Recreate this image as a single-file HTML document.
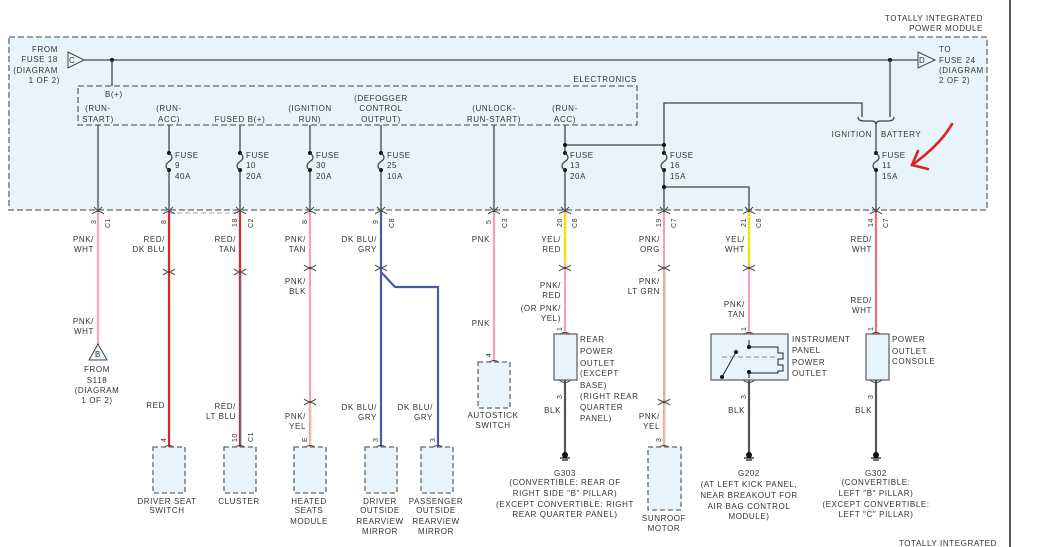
<!DOCTYPE html>
<html><head><meta charset="utf-8"><style>
html,body{margin:0;padding:0;background:#fff;width:1042px;height:547px;overflow:hidden}
svg{display:block}
text{font-family:"Liberation Sans",sans-serif;font-size:8px;fill:#333;letter-spacing:0.6px}
.r{text-anchor:end}.m{text-anchor:middle}
.d{fill:none;stroke:#666;stroke-width:1.3;stroke-dasharray:6,3}
.k{fill:none;stroke:#444;stroke-width:1.3}
.bx{fill:#e8f4fb;stroke:#666;stroke-width:1.3;stroke-dasharray:5,3}
.sb{fill:#e8f4fb;stroke:#666;stroke-width:1.3}
</style></head><body>
<svg width="1042" height="547" viewBox="0 0 1042 547">
<defs>
<g id="fuse"><circle cx="0" cy="0" r="2" fill="#111"/><circle cx="0" cy="17" r="2" fill="#111"/><path d="M0,0 c4,3 4,6 0,8.5 c-4,3 -4,6 0,8.5" fill="none" stroke="#444" stroke-width="1.3"/></g>
<g id="conn"><path d="M-4,-5 L0,-1 L4,-5" fill="none" stroke="#444" stroke-width="1"/><path d="M-6,2 Q0,-3 6,2" fill="none" stroke="#444" stroke-width="1"/></g>
<g id="inl"><path d="M-6,-3 Q0,2 6,-3" fill="none" stroke="#444" stroke-width="1"/><path d="M-6,3 Q0,-2 6,3" fill="none" stroke="#444" stroke-width="1"/></g>
<g id="top"><path d="M-6,3 Q0,-2 6,3" fill="none" stroke="#444" stroke-width="1"/></g>
<g id="bot"><path d="M-6,-3 Q0,2 6,-3" fill="none" stroke="#444" stroke-width="1"/></g>
<g id="gnd"><circle cx="0" cy="0" r="3" fill="#111"/><line x1="-5" y1="3" x2="5" y2="3" stroke="#111" stroke-width="1.2"/><line x1="-3" y1="5" x2="3" y2="5" stroke="#111" stroke-width="1.2"/></g>
</defs>
<rect x="0" y="0" width="1042" height="547" fill="#fff"/>
<line x1="1010" y1="0" x2="1010" y2="547" stroke="#222" stroke-width="1.5"/>
<rect x="9" y="37" width="978" height="173" fill="#e8f4fb"/>
<rect x="9" y="37" width="978" height="173" class="d"/>
<rect x="78" y="86" width="559" height="39" class="d"/>
<text class="r" x="983" y="21">TOTALLY INTEGRATED</text>
<text class="r" x="983" y="31">POWER MODULE</text>
<text class="r" x="58" y="52">FROM</text><text class="r" x="58" y="62">FUSE 18</text><text class="r" x="58" y="73">(DIAGRAM</text><text class="r" x="60" y="83">1 OF 2)</text>
<polygon points="68,52 84,60 68,68" fill="#e8f4fb" stroke="#444" stroke-width="1"/><text x="69" y="63">C</text>
<line x1="84" y1="60" x2="918" y2="60" class="k"/>
<polygon points="918,52 935,60 918,68" fill="#e8f4fb" stroke="#444" stroke-width="1"/><text x="919" y="63">D</text>
<text x="939" y="52">TO</text><text x="939" y="63">FUSE 24</text><text x="939" y="73">(DIAGRAM</text><text x="939" y="83">2 OF 2)</text>
<circle cx="112" cy="60" r="2" fill="#111"/><line x1="112" y1="60" x2="112" y2="86" class="k"/>
<circle cx="890" cy="60" r="2" fill="#111"/>
<text x="105" y="97">B(+)</text>
<text class="r" x="637" y="82">ELECTRONICS</text>
<text class="m" x="98" y="111">(RUN-</text><text class="m" x="98" y="122">START)</text>
<text class="m" x="169" y="111">(RUN-</text><text class="m" x="169" y="122">ACC)</text>
<text class="m" x="240" y="122">FUSED B(+)</text>
<text class="m" x="310" y="111">(IGNITION</text><text class="m" x="310" y="122">RUN)</text>
<text class="m" x="381" y="101">(DEFOGGER</text><text class="m" x="381" y="111">CONTROL</text><text class="m" x="381" y="122">OUTPUT)</text>
<text class="m" x="494" y="111">(UNLOCK-</text><text class="m" x="494" y="122">RUN-START)</text>
<text class="m" x="565" y="111">(RUN-</text><text class="m" x="565" y="122">ACC)</text>
<g class="k">
<line x1="98" y1="125" x2="98" y2="210"/>
<line x1="169" y1="125" x2="169" y2="210"/>
<line x1="240" y1="125" x2="240" y2="210"/>
<line x1="310" y1="125" x2="310" y2="210"/>
<line x1="381" y1="125" x2="381" y2="210"/>
<line x1="494" y1="125" x2="494" y2="210"/>
<line x1="565" y1="125" x2="565" y2="210"/>
<line x1="565" y1="145" x2="664" y2="145"/>
<polyline points="664,210 664,103 862,103 862,117"/>
<line x1="890" y1="60" x2="890" y2="117"/>
<path d="M858,117 Q858,121 864,121 L872,121 Q876,121 876,125 Q876,121 880,121 L888,121 Q894,121 894,117"/>
<line x1="876" y1="125" x2="876" y2="210"/>
<polyline points="664,187 749,187 749,210"/>
</g>
<circle cx="565" cy="145" r="2" fill="#111"/><circle cx="664" cy="145" r="2" fill="#111"/><circle cx="664" cy="187" r="2" fill="#111"/>
<text class="r" x="872" y="137">IGNITION</text><text x="881" y="137">BATTERY</text>
<g fill="#e8f4fb"><rect x="166" y="154" width="6" height="15"/><rect x="237" y="154" width="6" height="15"/><rect x="307" y="154" width="6" height="15"/><rect x="378" y="154" width="6" height="15"/><rect x="562" y="154" width="6" height="15"/><rect x="661" y="154" width="6" height="15"/><rect x="873" y="154" width="6" height="15"/></g>
<use href="#fuse" x="169" y="153"/><use href="#fuse" x="240" y="153"/><use href="#fuse" x="310" y="153"/><use href="#fuse" x="381" y="153"/><use href="#fuse" x="565" y="153"/><use href="#fuse" x="664" y="153"/><use href="#fuse" x="876" y="153"/>
<text x="175" y="158">FUSE</text><text x="175" y="168">9</text><text x="175" y="179">40A</text>
<text x="246" y="158">FUSE</text><text x="246" y="168">10</text><text x="246" y="179">20A</text>
<text x="316" y="158">FUSE</text><text x="316" y="168">30</text><text x="316" y="179">20A</text>
<text x="387" y="158">FUSE</text><text x="387" y="168">25</text><text x="387" y="179">10A</text>
<text x="570" y="158">FUSE</text><text x="570" y="168">13</text><text x="570" y="179">20A</text>
<text x="670" y="158">FUSE</text><text x="670" y="168">16</text><text x="670" y="179">15A</text>
<text x="882" y="158">FUSE</text><text x="882" y="168">11</text><text x="882" y="179">15A</text>
<line x1="169" y1="213" x2="240" y2="213" stroke="#888" stroke-width="0.8" stroke-dasharray="5,3"/>
<g stroke-width="2.2" fill="none">
<line x1="98" y1="212" x2="98" y2="345" stroke="#f6a6b8"/>
<line x1="169" y1="212" x2="169" y2="447" stroke="#e52222"/>
<line x1="240" y1="212" x2="240" y2="447" stroke="#e52222"/>
<line x1="241" y1="275" x2="241" y2="447" stroke="#2aa8a0" stroke-width="0.8"/>
<line x1="310" y1="212" x2="310" y2="447" stroke="#f6a0b4"/>
<line x1="311" y1="405" x2="311" y2="447" stroke="#f5d890" stroke-width="1"/>
<line x1="381" y1="212" x2="381" y2="447" stroke="#4a5aa8"/>
<polyline points="381,272 395,287 438,287 438,447" stroke="#4a5aa8"/>
<line x1="494" y1="212" x2="494" y2="362" stroke="#f6a0b4"/>
<line x1="565" y1="212" x2="565" y2="334" stroke="#f6a0b4"/>
<line x1="565" y1="212" x2="565" y2="265" stroke="#f5e400"/>
<line x1="664" y1="212" x2="664" y2="447" stroke="#f6a0b4"/>
<line x1="665" y1="272" x2="665" y2="405" stroke="#a8d890" stroke-width="1.2"/>
<line x1="665" y1="405" x2="665" y2="447" stroke="#f5d070" stroke-width="1"/>
<line x1="749" y1="212" x2="749" y2="334" stroke="#f6a0b4"/>
<line x1="749" y1="212" x2="749" y2="265" stroke="#f5e400"/>
<line x1="876" y1="212" x2="876" y2="334" stroke="#f07070"/>
<line x1="565" y1="380" x2="565" y2="455" stroke="#555"/>
<line x1="749" y1="380" x2="749" y2="455" stroke="#555"/>
<line x1="876" y1="380" x2="876" y2="455" stroke="#555"/>
</g>
<g>
<use href="#conn" x="98" y="212"/><use href="#conn" x="169" y="212"/><use href="#conn" x="240" y="212"/><use href="#conn" x="310" y="212"/><use href="#conn" x="381" y="212"/><use href="#conn" x="494" y="212"/><use href="#conn" x="565" y="212"/><use href="#conn" x="664" y="212"/><use href="#conn" x="749" y="212"/><use href="#conn" x="876" y="212"/>
<use href="#inl" x="169" y="272"/><use href="#inl" x="240" y="272"/><use href="#inl" x="310" y="268"/><use href="#inl" x="381" y="268"/><use href="#inl" x="565" y="268"/><use href="#inl" x="664" y="268"/><use href="#inl" x="749" y="268"/>
<use href="#inl" x="310" y="402"/><use href="#inl" x="664" y="402"/>
<use href="#top" x="169" y="445"/><use href="#top" x="240" y="445"/><use href="#top" x="310" y="445"/><use href="#top" x="381" y="445"/><use href="#top" x="438" y="445"/><use href="#top" x="494" y="360"/><use href="#top" x="664" y="445"/><use href="#top" x="565" y="332"/><use href="#top" x="749" y="332"/><use href="#top" x="876" y="332"/>
<use href="#bot" x="565" y="383"/><use href="#bot" x="749" y="383"/><use href="#bot" x="876" y="383"/>
<use href="#gnd" x="565" y="455"/><use href="#gnd" x="749" y="455"/><use href="#gnd" x="876" y="455"/>
</g>
<g>
<text transform="translate(96,224) rotate(-90)" style="font-size:7px">3</text><text transform="translate(110,228) rotate(-90)" style="font-size:7px">C1</text>
<text transform="translate(166,224) rotate(-90)" style="font-size:7px">8</text>
<text transform="translate(237,227) rotate(-90)" style="font-size:7px">18</text><text transform="translate(253,228) rotate(-90)" style="font-size:7px">C2</text>
<text transform="translate(307,224) rotate(-90)" style="font-size:7px">8</text>
<text transform="translate(378,224) rotate(-90)" style="font-size:7px">9</text><text transform="translate(394,228) rotate(-90)" style="font-size:7px">C8</text>
<text transform="translate(491,224) rotate(-90)" style="font-size:7px">5</text><text transform="translate(507,228) rotate(-90)" style="font-size:7px">C3</text>
<text transform="translate(562,227) rotate(-90)" style="font-size:7px">20</text><text transform="translate(577,228) rotate(-90)" style="font-size:7px">C8</text>
<text transform="translate(661,227) rotate(-90)" style="font-size:7px">19</text><text transform="translate(676,228) rotate(-90)" style="font-size:7px">C7</text>
<text transform="translate(746,227) rotate(-90)" style="font-size:7px">21</text><text transform="translate(761,228) rotate(-90)" style="font-size:7px">C8</text>
<text transform="translate(873,227) rotate(-90)" style="font-size:7px">14</text><text transform="translate(888,228) rotate(-90)" style="font-size:7px">C7</text>
<text transform="translate(166,442) rotate(-90)" style="font-size:7px">4</text>
<text transform="translate(237,442) rotate(-90)" style="font-size:7px">10</text><text transform="translate(253,442) rotate(-90)" style="font-size:7px">C1</text>
<text transform="translate(307,442) rotate(-90)" style="font-size:7px">E</text>
<text transform="translate(378,442) rotate(-90)" style="font-size:7px">3</text>
<text transform="translate(435,442) rotate(-90)" style="font-size:7px">3</text>
<text transform="translate(491,357) rotate(-90)" style="font-size:7px">4</text>
<text transform="translate(661,442) rotate(-90)" style="font-size:7px">3</text>
<text transform="translate(562,331) rotate(-90)" style="font-size:7px">1</text>
<text transform="translate(746,331) rotate(-90)" style="font-size:7px">1</text>
<text transform="translate(873,331) rotate(-90)" style="font-size:7px">1</text>
<text transform="translate(562,399) rotate(-90)" style="font-size:7px">3</text>
<text transform="translate(746,399) rotate(-90)" style="font-size:7px">3</text>
<text transform="translate(873,399) rotate(-90)" style="font-size:7px">3</text>
</g>
<text class="r" x="94" y="242">PNK/</text><text class="r" x="94" y="252">WHT</text>
<text class="r" x="165" y="242">RED/</text><text class="r" x="165" y="252">DK BLU</text>
<text class="r" x="236" y="242">RED/</text><text class="r" x="236" y="252">TAN</text>
<text class="r" x="306" y="242">PNK/</text><text class="r" x="306" y="252">TAN</text>
<text class="r" x="377" y="242">DK BLU/</text><text class="r" x="377" y="252">GRY</text>
<text class="r" x="490" y="242">PNK</text>
<text class="r" x="561" y="242">YEL/</text><text class="r" x="561" y="252">RED</text>
<text class="r" x="660" y="242">PNK/</text><text class="r" x="660" y="252">ORG</text>
<text class="r" x="745" y="242">YEL/</text><text class="r" x="745" y="252">WHT</text>
<text class="r" x="872" y="242">RED/</text><text class="r" x="872" y="252">WHT</text>
<text class="r" x="94" y="324">PNK/</text><text class="r" x="94" y="334">WHT</text>
<text class="r" x="306" y="284">PNK/</text><text class="r" x="306" y="294">BLK</text>
<text class="r" x="490" y="326">PNK</text>
<text class="r" x="561" y="288">PNK/</text><text class="r" x="561" y="298">RED</text><text class="r" x="561" y="311">(OR PNK/</text><text class="r" x="561" y="321">YEL)</text>
<text class="r" x="660" y="284">PNK/</text><text class="r" x="660" y="294">LT GRN</text>
<text class="r" x="745" y="307">PNK/</text><text class="r" x="745" y="317">TAN</text>
<text class="r" x="872" y="303">RED/</text><text class="r" x="872" y="313">WHT</text>
<text class="r" x="165" y="408">RED</text>
<text class="r" x="236" y="409">RED/</text><text class="r" x="236" y="419">LT BLU</text>
<text class="r" x="306" y="419">PNK/</text><text class="r" x="306" y="429">YEL</text>
<text class="r" x="377" y="410">DK BLU/</text><text class="r" x="377" y="420">GRY</text>
<text class="r" x="433" y="410">DK BLU/</text><text class="r" x="433" y="420">GRY</text>
<text class="r" x="660" y="419">PNK/</text><text class="r" x="660" y="429">YEL</text>
<text class="r" x="561" y="413">BLK</text><text class="r" x="745" y="413">BLK</text><text class="r" x="872" y="413">BLK</text>
<polygon points="98,344 89,360 107,360" fill="#e8f4fb" stroke="#444" stroke-width="1"/><text class="m" x="98" y="357">B</text>
<text class="m" x="97" y="372">FROM</text><text class="m" x="97" y="383">S118</text><text class="m" x="97" y="393">(DIAGRAM</text><text class="m" x="97" y="403">1 OF 2)</text>
<rect x="153" y="447" width="32" height="46" class="bx"/>
<rect x="224" y="447" width="32" height="46" class="bx"/>
<rect x="294" y="447" width="32" height="46" class="bx"/>
<rect x="365" y="447" width="32" height="46" class="bx"/>
<rect x="421" y="447" width="32" height="46" class="bx"/>
<rect x="478" y="362" width="32" height="46" class="bx"/>
<rect x="648" y="447" width="33" height="63" class="bx"/>
<text class="m" x="167" y="504">DRIVER SEAT</text><text class="m" x="167" y="513">SWITCH</text>
<text class="m" x="239" y="504">CLUSTER</text>
<text class="m" x="309" y="504">HEATED</text><text class="m" x="309" y="513">SEATS</text><text class="m" x="309" y="524">MODULE</text>
<text class="m" x="380" y="504">DRIVER</text><text class="m" x="380" y="513">OUTSIDE</text><text class="m" x="380" y="524">REARVIEW</text><text class="m" x="380" y="534">MIRROR</text>
<text class="m" x="436" y="504">PASSENGER</text><text class="m" x="436" y="513">OUTSIDE</text><text class="m" x="436" y="524">REARVIEW</text><text class="m" x="436" y="534">MIRROR</text>
<text class="m" x="493" y="418">AUTOSTICK</text><text class="m" x="493" y="428">SWITCH</text>
<text class="m" x="664" y="521">SUNROOF</text><text class="m" x="664" y="531">MOTOR</text>
<rect x="554" y="334" width="23" height="46" class="sb"/>
<text x="580" y="342">REAR</text><text x="580" y="354">POWER</text><text x="580" y="366">OUTLET</text><text x="580" y="376">(EXCEPT</text><text x="580" y="388">BASE)</text><text x="580" y="399">(RIGHT REAR</text><text x="580" y="410">QUARTER</text><text x="580" y="421">PANEL)</text>
<rect x="711" y="334" width="77" height="46" class="sb"/>
<g stroke="#222" stroke-width="1" fill="none">
<polyline points="749,340 749,347 778,347 778,353 783,353 783,359 778,359 778,365 783,365 783,371 778,371 778,373 749,373 749,378"/>
<line x1="736" y1="352" x2="722" y2="377"/>
<line x1="722" y1="357" x2="778" y2="357" stroke="#888" stroke-dasharray="5,3"/>
</g>
<circle cx="749" cy="347" r="2" fill="#111"/><circle cx="736" cy="352" r="2" fill="#111"/><circle cx="722" cy="377" r="2" fill="#111"/><circle cx="749" cy="372" r="2" fill="#111"/>
<text x="792" y="342">INSTRUMENT</text><text x="792" y="353">PANEL</text><text x="792" y="365">POWER</text><text x="792" y="376">OUTLET</text>
<rect x="866" y="334" width="23" height="46" class="sb"/>
<text x="892" y="342">POWER</text><text x="892" y="354">OUTLET</text><text x="892" y="364">CONSOLE</text>
<text class="m" x="565" y="476">G303</text><text class="m" x="565" y="485">(CONVERTIBLE: REAR OF</text><text class="m" x="565" y="496">RIGHT SIDE "B" PILLAR)</text><text class="m" x="565" y="507">(EXCEPT CONVERTIBLE: RIGHT</text><text class="m" x="565" y="517">REAR QUARTER PANEL)</text>
<text class="m" x="749" y="476">G202</text><text class="m" x="749" y="487">(AT LEFT KICK PANEL,</text><text class="m" x="749" y="498">NEAR BREAKOUT FOR</text><text class="m" x="749" y="509">AIR BAG CONTROL</text><text class="m" x="749" y="519">MODULE)</text>
<text class="m" x="876" y="476">G302</text><text class="m" x="876" y="485">(CONVERTIBLE:</text><text class="m" x="876" y="496">LEFT "B" PILLAR)</text><text class="m" x="876" y="507">(EXCEPT CONVERTIBLE:</text><text class="m" x="876" y="517">LEFT "C" PILLAR)</text>
<text class="r" x="997" y="546">TOTALLY INTEGRATED</text>
<g stroke="#e0201c" stroke-width="2.6" fill="none" stroke-linecap="round">
<path d="M952,124 Q940,145 912,165"/>
<path d="M918,151 L912,165 L928,169"/>
</g>
</svg>
</body></html>
